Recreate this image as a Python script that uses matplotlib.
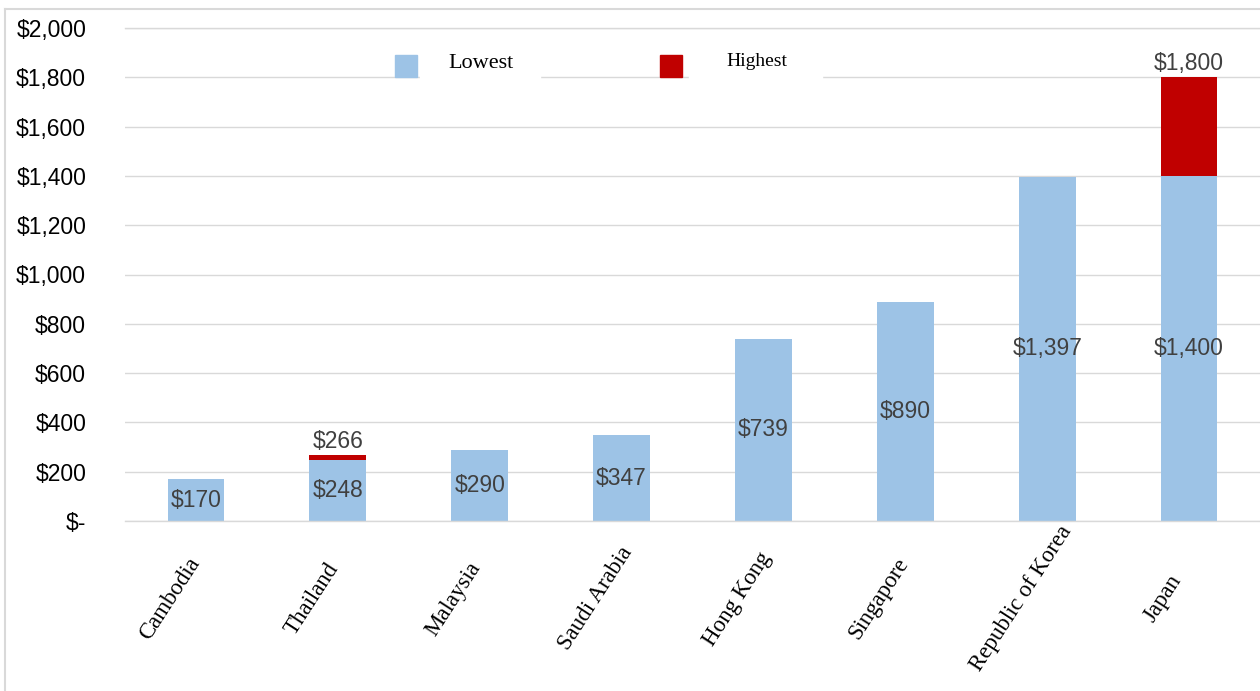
import matplotlib.pyplot as plt
import matplotlib.transforms as mtransforms
from matplotlib.lines import Line2D
from matplotlib.patches import Rectangle
from matplotlib.ticker import FuncFormatter
import numpy as np

countries = ['Cambodia', 'Thailand', 'Malaysia', 'Saudi Arabia', 'Hong Kong',
             'Singapore', 'Republic of Korea', 'Japan']
lowest = [170, 248, 290, 347, 739, 890, 1397, 1400]
highest = [None, 266, None, None, None, None, None, 1800]

BLUE = '#9dc3e6'
RED = '#c00000'
GRID = '#d9d9d9'


def money(v, pos=None):
    if v == 0:
        return '$-'
    return f'${v:,.0f}'


def chart():
    fig = plt.figure(figsize=(12.6, 6.91), dpi=100)
    ax = fig.add_axes([125 / 1260, 170 / 691, 1135 / 1260, 493 / 691])

    x = np.arange(len(countries))
    width = 0.4

    # extra part on top of the lowest price, only where a highest price exists
    extra = [h - l if h is not None else 0 for l, h in zip(lowest, highest)]

    low_bars = ax.bar(x, lowest, width, color=BLUE, zorder=2)
    high_bars = ax.bar(x, extra, width, bottom=lowest, color=RED, zorder=2)

    ax.bar_label(low_bars, labels=[money(v) for v in lowest], label_type='center',
                 fontsize=16.5, color='#404040', family='Liberation Sans')
    ax.bar_label(high_bars, labels=[money(h) if h is not None else '' for h in highest],
                 padding=2, fontsize=16.5, color='#404040', family='Liberation Sans')

    ax.set_xlim(-0.5, len(countries) - 0.5)
    ax.set_ylim(0, 2000)
    ax.set_yticks(np.arange(0, 2001, 200))
    ax.yaxis.set_major_formatter(FuncFormatter(money))
    ax.grid(axis='y', color=GRID, linewidth=1, zorder=0)
    ax.set_axisbelow(True)
    for side in ['left', 'right']:
        ax.spines[side].set_visible(False)
    for side in ['top', 'bottom']:
        ax.spines[side].set_color(GRID)
        ax.spines[side].set_linewidth(1)

    ax.tick_params(axis='y', length=0, pad=28, labelsize=16.5)
    for lbl in ax.get_yticklabels():
        lbl.set_family('Liberation Sans')

    ax.set_xticks(x, countries, rotation=57, ha='center', va='center',
                  rotation_mode='anchor', family='Liberation Serif', fontsize=16.5)
    ax.tick_params(axis='x', length=0, pad=56)
    shift = mtransforms.ScaledTranslation(-26 / 100, 0, fig.dpi_scale_trans)
    for lbl in ax.get_xticklabels():
        lbl.set_transform(lbl.get_transform() + shift)

    # legend drawn by hand, like the original slide: white boxes hide the grid
    ax.add_patch(Rectangle((295 / 1135, 0.86), 120 / 1135, 0.1, transform=ax.transAxes,
                           color='white', clip_on=False, zorder=1))
    ax.add_patch(Rectangle((564 / 1135, 0.86), 133 / 1135, 0.1, transform=ax.transAxes,
                           color='white', clip_on=False, zorder=1))
    ax.add_patch(Rectangle((270 / 1135, 0.9006), 22 / 1135, 0.0446, transform=ax.transAxes,
                           color=BLUE, clip_on=False, zorder=3))
    ax.add_patch(Rectangle((535 / 1135, 0.9006), 22 / 1135, 0.0446, transform=ax.transAxes,
                           color=RED, clip_on=False, zorder=3))
    ax.text(323 / 1135, 0.928, 'Lowest', transform=ax.transAxes, family='Liberation Serif',
            fontsize=16, va='center', ha='left', zorder=3)
    ax.text(601 / 1135, 0.933, 'Highest', transform=ax.transAxes, family='Liberation Serif',
            fontsize=14, va='center', ha='left', zorder=3)

    # thin frame of the slide
    fig.add_artist(Line2D([5 / 1260, 5 / 1260], [0, 1 - 9 / 691], color=GRID, lw=1.5))
    fig.add_artist(Line2D([5 / 1260, 1], [1 - 9 / 691, 1 - 9 / 691], color=GRID, lw=1.5))

    fig.savefig('out.png', dpi=100)


if __name__ == '__main__':
    chart()
